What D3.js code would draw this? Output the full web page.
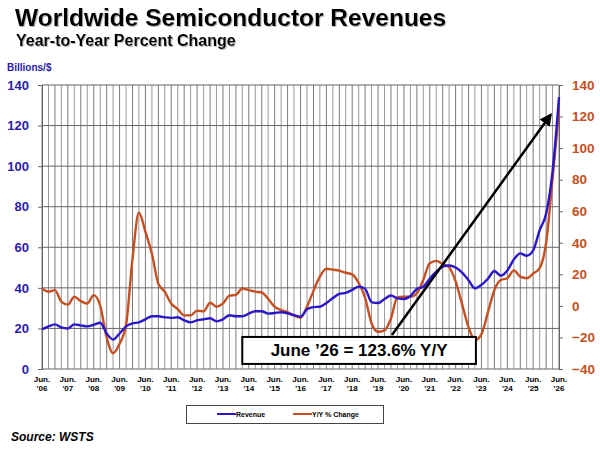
<!DOCTYPE html>
<html>
<head>
<meta charset="utf-8">
<script src="https://cdn.jsdelivr.net/npm/d3@7"></script>
<style>
  body { margin: 0; background: #fff; }
  svg { display: block; font-family: "Liberation Sans", Arial, sans-serif; }
</style>
</head>
<body>
<svg id="chart" width="600" height="450"></svg>
<script>
// Worldwide semiconductor revenues, 3MMA (Jun '06 .. Jun '26)
const revenue = [
  19.5, 21, 22, 20.5, 20, 22, 21.5, 21, 21.8, 22.8,
  17.5, 14.5, 17.5, 21, 22.5, 23, 24.5, 26, 26, 25.5,
  25.2, 25.5, 24, 23, 24, 24.5, 25, 23.5, 24.5, 26.5,
  26, 26, 27.3, 28.5, 28.5, 27.3, 27.6, 28, 27.5, 26.5,
  25.8, 29.5, 30.5, 30.7, 32.5, 35, 37, 37.5, 39, 40.6,
  39.5, 33, 32.5, 34.5, 36.2, 34.8, 34.5, 36, 39.5, 40.5,
  44.5, 48, 50.5, 51, 50, 47.5, 43.8, 39.8, 41.5, 44.5,
  48.3, 46, 48.5, 54, 57, 55.8, 58.5, 68.5, 76.5, 97,
  134
];
const yoyChange = [
  11, 9, 10, 2.7, 0.8, 5.8, 3, 1.5, 6.8, 0,
  -20, -30, -24, -12, 30, 59, 47, 33, 14, 9,
  1.5, -2, -6, -6, -3, -3.5, 2, -0.5, 1.6, 6.5,
  7, 11, 10, 9, 8.5, 4.5, -0.5, -2.7, -4, -6,
  -7.5, -0.4, 9.5, 18.5, 23.5, 23, 22.3, 21, 20, 14.5,
  5, -11, -16.4, -15.5, -8, 5.5, 5.8, 5.7, 8, 16.5,
  27, 28.5, 26.5, 24.5, 15.5, 1, -13.5, -21.6, -18, -4,
  10, 16.4, 17.5, 22.5, 18.5, 17.5, 20.5, 24, 40, 80,
  123.6
];
const yearLabels = ["'06", "'07", "'08", "'09", "'10", "'11", "'12", "'13", "'14", "'15", "'16",
                    "'17", "'18", "'19", "'20", "'21", "'22", "'23", "'24", "'25", "'26"];
const leftTicks = [0, 20, 40, 60, 80, 100, 120, 140];
const rightTicks = [-40, -20, 0, 20, 40, 60, 80, 100, 120, 140];
const seriesNames = ["Revenue", "Y/Y % Change"];
const calloutText = "June \u201926 = 123.6% Y/Y";

const BLUE = '#2a17c9';
const ORANGE = '#c64f22';

const svg = d3.select('#chart');

// quarter dates starting June 2006
const dates = revenue.map((_, i) => new Date(2006, 5 + 3 * i, 1));
const junes = yearLabels.map((_, i) => new Date(2006 + i, 5, 1));

const x = d3.scaleTime().domain([dates[0], dates[dates.length - 1]]).range([42, 559]);
const yL = d3.scaleLinear().domain([0, 140]).range([369, 85]);
const yR = d3.scaleLinear().domain([-40, 140]).range([369, 85]);

// title block
const shadow = svg.append('defs').append('filter').attr('id', 'shadow');
shadow.append('feDropShadow').attr('dx', 1).attr('dy', 1).attr('stdDeviation', 0.6)
  .attr('flood-color', '#888').attr('flood-opacity', 0.6);

svg.append('text').attr('x', 15).attr('y', 26)
  .attr('font-size', 24.5).attr('font-weight', 'bold').attr('filter', 'url(#shadow)')
  .text('Worldwide Semiconductor Revenues');
svg.append('text').attr('x', 16).attr('y', 46)
  .attr('font-size', 16).attr('font-weight', 'bold').attr('filter', 'url(#shadow)')
  .text('Year-to-Year Percent Change');
svg.append('text').attr('x', 7).attr('y', 71)
  .attr('font-size', 10).attr('font-weight', 'bold').attr('fill', '#2a1ba8')
  .text('Billions/$');

// grid
const grid = svg.append('g');
grid.selectAll('.vg').data(dates).enter().append('line')
  .attr('x1', d => x(d)).attr('x2', d => x(d))
  .attr('y1', yL(140)).attr('y2', yL(0))
  .attr('stroke', (d, i) => i % 2 ? '#9a9a9a' : '#7a7a7a').attr('stroke-width', 1);
grid.selectAll('.hg').data(leftTicks).enter().append('line')
  .attr('x1', x.range()[0]).attr('x2', x.range()[1])
  .attr('y1', d => yL(d)).attr('y2', d => yL(d))
  .attr('stroke', '#666').attr('stroke-width', 1);

// axes
const leftAxis = svg.append('g').attr('transform', `translate(${x.range()[0]},0)`)
  .call(d3.axisLeft(yL).tickValues(leftTicks).tickSize(4).tickPadding(9));
leftAxis.select('.domain').attr('stroke', '#666');
leftAxis.selectAll('line').attr('stroke', '#666');
leftAxis.selectAll('text').attr('font-size', 13).attr('font-weight', 'bold')
  .attr('fill', '#2a1ba8').attr('font-family', '"Liberation Sans", Arial, sans-serif');

const rightAxis = svg.append('g').attr('transform', `translate(${x.range()[1]},0)`)
  .call(d3.axisRight(yR).tickValues(rightTicks).tickSize(4).tickPadding(9));
rightAxis.select('.domain').attr('stroke', '#666');
rightAxis.selectAll('line').attr('stroke', '#666');
rightAxis.selectAll('text').attr('font-size', 13.5).attr('font-weight', 'bold')
  .attr('fill', ORANGE).attr('font-family', '"Liberation Sans", Arial, sans-serif');

const xLab = svg.append('g').selectAll('text').data(junes).enter().append('text')
  .attr('text-anchor', 'middle').attr('font-size', 8).attr('font-weight', 'bold');
xLab.append('tspan').attr('x', d => x(d)).attr('y', 382).text('Jun.');
xLab.append('tspan').attr('x', d => x(d)).attr('y', 391).text((d, i) => yearLabels[i]);

// series
const lineRev = d3.line().x((d, i) => x(dates[i])).y(d => yL(d)).curve(d3.curveMonotoneX);
const lineYoy = d3.line().x((d, i) => x(dates[i])).y(d => yR(d)).curve(d3.curveMonotoneX);

svg.append('path').datum(yoyChange).attr('d', lineYoy)
  .attr('fill', 'none').attr('stroke', ORANGE).attr('stroke-width', 2.4);
svg.append('path').datum(revenue).attr('d', lineRev)
  .attr('fill', 'none').attr('stroke', BLUE).attr('stroke-width', 2.4);

// callout box and arrow
const boxX0 = x(new Date(2014, 2, 1)), boxX1 = x(new Date(2023, 2, 15));
svg.append('rect').attr('x', boxX0).attr('y', yL(15.8))
  .attr('width', boxX1 - boxX0).attr('height', yL(2.5) - yL(15.8))
  .attr('fill', '#fff').attr('stroke', '#000').attr('stroke-width', 2);
svg.append('text').attr('x', (boxX0 + boxX1) / 2).attr('y', yL(9.15) + 6)
  .attr('text-anchor', 'middle').attr('font-size', 17).attr('font-weight', 'bold')
  .text(calloutText);

svg.select('defs').append('marker').attr('id', 'arrow')
  .attr('viewBox', '0 0 10 10').attr('refX', 8).attr('refY', 5)
  .attr('markerWidth', 5).attr('markerHeight', 5).attr('orient', 'auto')
  .append('path').attr('d', 'M0,0 L10,5 L0,10 Z').attr('fill', '#000');
svg.append('line')
  .attr('x1', x(new Date(2019, 11, 15))).attr('y1', yL(16.8))
  .attr('x2', x(new Date(2026, 1, 1))).attr('y2', yL(125.2))
  .attr('stroke', '#000').attr('stroke-width', 2.5).attr('marker-end', 'url(#arrow)');

// legend
const legend = svg.append('g');
legend.append('rect').attr('x', 186.5).attr('y', 405.5).attr('width', 197).attr('height', 18)
  .attr('fill', '#fff').attr('stroke', '#444').attr('stroke-width', 1);
[[217, BLUE], [293, ORANGE]].forEach(([lx, c], i) => {
  legend.append('line').attr('x1', lx).attr('x2', lx + 19).attr('y1', 414).attr('y2', 414)
    .attr('stroke', c).attr('stroke-width', 2);
  legend.append('text').attr('x', lx + 19).attr('y', 417)
    .attr('font-size', 7).attr('font-weight', 'bold').text(seriesNames[i]);
});

svg.append('text').attr('x', 11).attr('y', 441)
  .attr('font-size', 12).attr('font-weight', 'bold').attr('font-style', 'italic')
  .text('Source: WSTS');
</script>
</body>
</html>
